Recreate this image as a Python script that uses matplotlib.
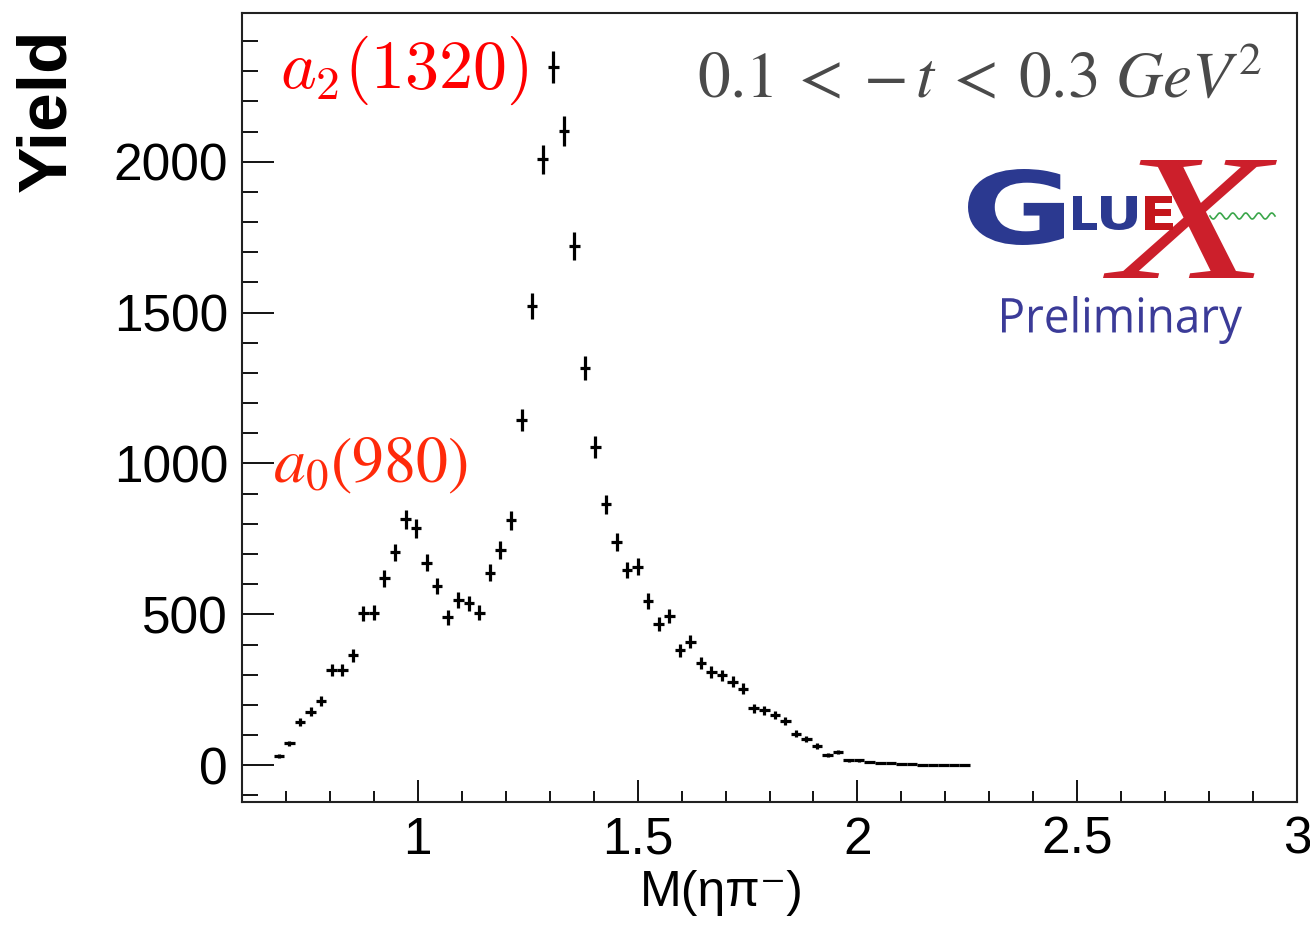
import numpy as np
import matplotlib
matplotlib.use('Agg')
import matplotlib.pyplot as plt
import matplotlib.transforms as mtransforms
from matplotlib.ticker import MultipleLocator, FixedLocator
from matplotlib.textpath import TextPath
from matplotlib.patches import PathPatch
from matplotlib.font_manager import FontProperties

plt.rcParams['font.family'] = ['Liberation Sans', 'DejaVu Sans']

# M(eta pi-) bin centres in GeV (bins 0.024 wide)
mass = [0.684, 0.708, 0.732, 0.756, 0.780, 0.804, 0.828, 0.852, 0.876, 0.900,
        0.924, 0.948, 0.972, 0.996, 1.020, 1.044, 1.068, 1.092, 1.116, 1.140,
        1.164, 1.188, 1.212, 1.236, 1.260, 1.284, 1.308, 1.332, 1.356, 1.380,
        1.404, 1.428, 1.452, 1.476, 1.500, 1.524, 1.548, 1.572, 1.596, 1.620,
        1.644, 1.668, 1.692, 1.716, 1.740, 1.764, 1.788, 1.812, 1.836, 1.860,
        1.884, 1.908, 1.932, 1.956, 1.980, 2.004, 2.028, 2.052, 2.076, 2.100,
        2.124, 2.148, 2.172, 2.196, 2.220, 2.244]

yields = [30, 72, 144, 177, 212, 317, 317, 364, 503, 506,
          619, 705, 815, 785, 671, 595, 490, 547, 536, 505,
          638, 713, 812, 1144, 1522, 2008, 2313, 2103, 1721, 1315,
          1055, 865, 740, 647, 658, 544, 468, 494, 381, 409,
          339, 309, 298, 276, 254, 188, 182, 166, 147, 105,
          86, 63, 33, 44, 17, 17, 11, 8, 6, 3,
          3, 2, 1, 1, 2, 2]

yield_err = [6, 9, 13, 15, 16, 20, 20, 21, 25, 25,
             27, 29, 31, 31, 28, 27, 24, 26, 25, 25,
             28, 29, 31, 37, 43, 49, 53, 50, 46, 40,
             36, 32, 30, 28, 28, 26, 24, 24, 21, 22,
             20, 19, 19, 18, 18, 15, 15, 14, 13, 11,
             10, 9, 6, 7, 5, 5, 4, 3, 3, 2,
             2, 2, 1, 1, 2, 2]

half_bin = 0.012

W, H = 1310, 939
fig = plt.figure(figsize=(W / 100, H / 100), dpi=100)

# main histogram frame, placed in pixels
ax = fig.add_axes([242 / W, 1 - 802 / H, 1055 / W, 789 / H])
ax.errorbar(mass, yields, xerr=half_bin, yerr=yield_err, fmt='none',
            ecolor='black', elinewidth=2.3, capsize=0)

ax.set_xlim(0.6, 3.0)
ax.set_ylim(-122, 2493)
ax.xaxis.set_major_locator(FixedLocator([1, 1.5, 2, 2.5, 3]))
ax.xaxis.set_minor_locator(MultipleLocator(0.1))
ax.yaxis.set_major_locator(MultipleLocator(500))
ax.yaxis.set_minor_locator(MultipleLocator(100))
ax.set_xticklabels(['1', '1.5', '2', '2.5', '3'])

for sp in ax.spines.values():
    sp.set_linewidth(1.5)
    sp.set_color('#222222')

ax.tick_params(axis='y', which='major', direction='in', length=23, width=1.3,
               labelsize=37, pad=10)
ax.tick_params(axis='y', which='minor', direction='in', length=11.5, width=1.3)
ax.tick_params(axis='x', which='major', direction='in', length=16, width=1.3,
               labelsize=37, pad=10)
ax.tick_params(axis='x', which='minor', direction='in', length=8, width=1.3)

# overlay in pixel coordinates for titles, labels and logo
ov = fig.add_axes([0, 0, 1, 1], zorder=5)
ov.set_xlim(0, W)
ov.set_ylim(H, 0)
ov.axis('off')
ov.patch.set_alpha(0)

ov.text(47, 28, 'Yield', rotation=90, fontsize=50, fontweight='bold',
        ha='center', va='top')
ov.text(722, 906, 'M(ηπ⁻)', fontsize=36, ha='center', va='baseline')

ov.text(280, 88, r'$a_2(1320)$', color='#ff0000', fontsize=49,
        math_fontfamily='cm', va='baseline')
ov.text(273, 482, r'$a_0(980)$', color='#ff2a0a', fontsize=46,
        math_fontfamily='stix', va='baseline')
ov.text(1262, 97, r'$0.1\:<\:-\,t\:<\:0.3\ GeV^{2}$', color='#4a4a4a',
        fontsize=47, math_fontfamily='stix', ha='right', va='baseline')


def glyph(s, x0, x1, y0, y1, color, prop):
    # stretch a text outline into the pixel box (x0..x1, y0..y1)
    tp = TextPath((0, 0), s, size=100, prop=prop)
    bb = tp.get_extents()
    tr = (mtransforms.Affine2D()
          .translate(-bb.x0, -bb.y0)
          .scale((x1 - x0) / bb.width, -(y1 - y0) / bb.height)
          .translate(x0, y1))
    ov.add_patch(PathPatch(tr.transform_path(tp), fc=color, ec='none', lw=0))


bold = FontProperties(family='DejaVu Sans', weight='bold')
serif_it = FontProperties(family='Liberation Serif', style='italic')
plain = FontProperties(family='Open Sans')

glyph('G', 968, 1064, 169, 245, '#2b3990', bold)
glyph('L', 1073, 1097, 196, 230, '#2b3990', bold)
glyph('U', 1101, 1137, 196, 230, '#2b3990', bold)
glyph('X', 1103, 1277, 160, 278, '#cc1f2b', serif_it)
glyph('E', 1145, 1173, 196, 230, '#c4161c', bold)
wave_x = np.linspace(1210, 1275, 200)
ov.plot(wave_x, 216 + 3 * np.sin((wave_x - 1210) / 65 * 5 * 2 * np.pi),
        color='#3aa64a', lw=1.2)
glyph('Preliminary', 1002, 1242, 296, 344, '#3b3b98', plain)

fig.savefig('out.png', dpi=100)
